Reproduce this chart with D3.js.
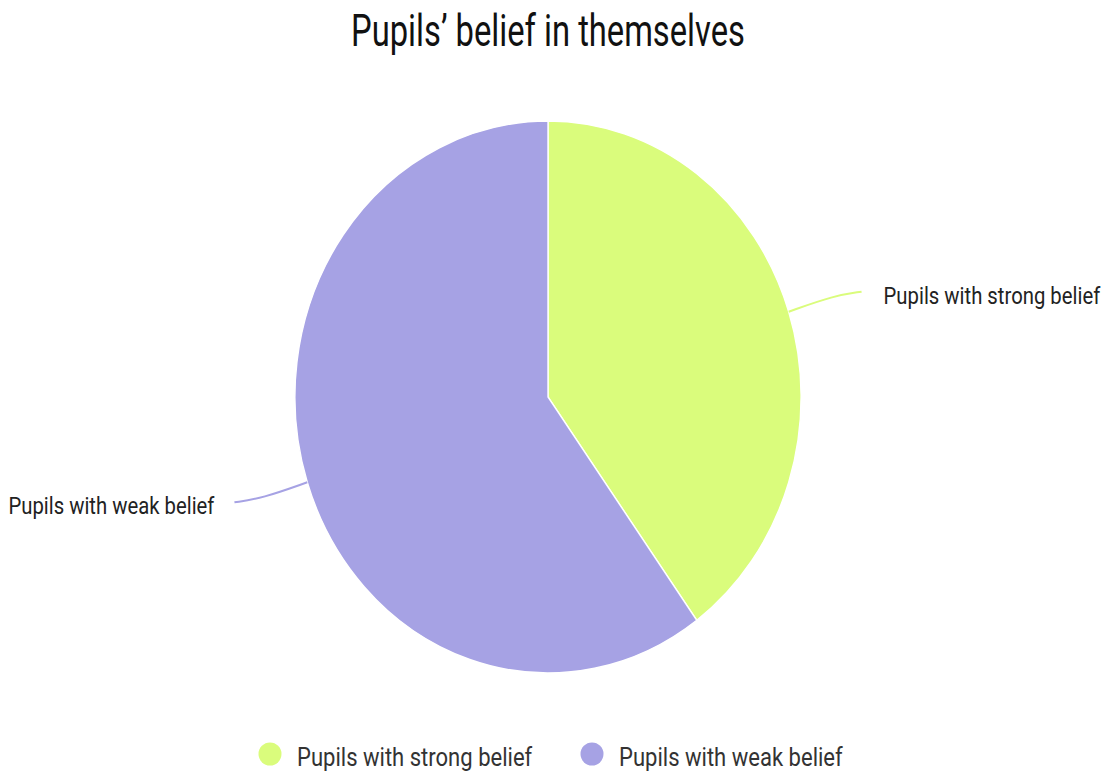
<!DOCTYPE html>
<html>
<head>
<meta charset="utf-8">
<script src="https://cdn.jsdelivr.net/npm/d3@7"></script>
<style>
  html, body { margin: 0; padding: 0; background: #fff; }
  svg { display: block; font-family: Roboto, "Liberation Sans", sans-serif; }
</style>
</head>
<body>
<svg id="chart" width="1101" height="771"></svg>
<script>
// Chart data
const title = "Pupils\u2019 belief in themselves";
const categories = ["Pupils with strong belief", "Pupils with weak belief"];
const values = [40, 60];
const colors = ["#dafc7c", "#a6a2e4"];

const W = 1101, H = 771;
const cx = 548, cy = 397, R = 276;
const squeeze = 0.917; // pie is drawn slightly narrower than tall

const svg = d3.select("#chart");

// Condensed text helper: draws text at (x, y) narrowed by factor k
function condensedText(parent, x, y, str, size, k, anchor, fill) {
  const g = parent.append("g").attr("transform", `translate(${x},${y}) scale(${k},1)`);
  g.append("text")
    .attr("text-anchor", anchor)
    .attr("font-size", size)
    .attr("fill", fill)
    .text(str);
  return g;
}

// Title
condensedText(svg, cx, 46, title, 45, 0.727, "middle", "#111");

const data = categories.map((c, i) => ({ name: c, value: values[i], color: colors[i] }));
const pie = d3.pie().sort(null).value(d => d.value);
const arcs = pie(data);
const arc = d3.arc().innerRadius(0).outerRadius(R);

const pieG = svg.append("g")
  .attr("transform", `translate(${cx},${cy}) scale(${squeeze},1)`);

pieG.selectAll("path.slice")
  .data(arcs)
  .join("path")
  .attr("class", "slice")
  .attr("d", arc)
  .attr("fill", d => d.data.color)
  .attr("stroke", "#fff")
  .attr("stroke-width", 1.5);

// Leader lines and outside labels
const line = d3.line().curve(d3.curveBasis);
arcs.forEach(a => {
  const mid = (a.startAngle + a.endAngle) / 2;
  const sx = Math.sin(mid), sy = -Math.cos(mid);
  const side = sx >= 0 ? 1 : -1;
  const p0 = [R * sx, R * sy];
  const p1 = [(R + 52) * sx, (R + 52) * sy];
  const p2 = [p1[0] + side * 30, p1[1] + (sy < 0 ? -4 : 4)];
  pieG.append("path")
    .attr("d", line([p0, p1, p2]))
    .attr("fill", "none")
    .attr("stroke", a.data.color)
    .attr("stroke-width", 2)
    .attr("vector-effect", "non-scaling-stroke");
  const ex = cx + p2[0] * squeeze, ey = cy + p2[1];
  condensedText(svg, ex + side * (side > 0 ? 22 : 20), ey + 12, a.data.name, 24, 0.846,
    side > 0 ? "start" : "end", "#222");
});

// Legend
const legendX = [270, 592];
data.forEach((d, i) => {
  svg.append("circle")
    .attr("cx", legendX[i]).attr("cy", 754)
    .attr("r", 11.5)
    .attr("fill", d.color);
  condensedText(svg, legendX[i] + 27, 766, d.name, 26, 0.848, "start", "#333");
});
</script>
</body>
</html>
